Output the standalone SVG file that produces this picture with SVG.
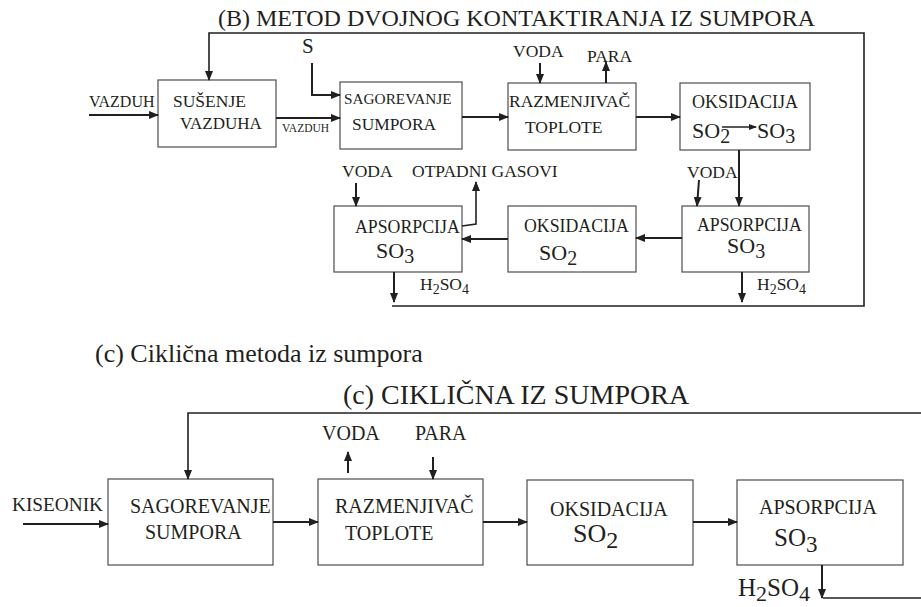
<svg xmlns="http://www.w3.org/2000/svg" width="921" height="607" viewBox="0 0 921 607" font-family="'Liberation Serif', 'DejaVu Serif', serif">
<style>
text{font-family:'Liberation Serif','DejaVu Serif',serif;fill:#231f20}
.box{fill:#fff;stroke:#4d4d4d;stroke-width:1.2}
.c{fill:none;stroke:#231f20;stroke-width:2}
.th{stroke-width:1.6}
.tn{stroke-width:1.3}
.t{font-size:17.5px}
.b{font-size:20px}
</style>
<defs>
<marker id="ah" markerWidth="10" markerHeight="8" refX="9" refY="4" orient="auto" markerUnits="userSpaceOnUse"><path d="M0,0 L10,4 L0,8 z" fill="#231f20"/></marker>
<marker id="ahs" markerWidth="8" markerHeight="6" refX="7" refY="3" orient="auto" markerUnits="userSpaceOnUse"><path d="M0,0 L8,3 L0,6 z" fill="#231f20"/></marker>
</defs>
<rect width="921" height="607" fill="#fff"/>

<text x="218" y="26" style="font-size:24px">(B) METOD DVOJNOG KONTAKTIRANJA IZ SUMPORA</text>
<text x="95" y="362" style="font-size:26px">(c) Ciklična metoda iz sumpora</text>
<text x="343" y="404" style="font-size:28px">(c) CIKLIČNA IZ SUMPORA</text>

<g id="susenje">
<rect class="box" x="158" y="80" width="118" height="67"/>
<text x="173" y="107" style="font-size:17.5px">SUŠENJE</text>
<text x="180" y="129" style="font-size:17px">VAZDUHA</text>
</g>
<g id="sagorevanje1">
<rect class="box" x="340" y="82" width="122" height="67"/>
<text x="344" y="104" style="font-size:15.3px">SAGOREVANJE</text>
<text x="352" y="130" style="font-size:17.4px">SUMPORA</text>
</g>
<g id="razmenjivac1">
<rect class="box" x="508" y="83" width="128" height="67"/>
<text x="509" y="107" class="t">RAZMENJIVAČ</text>
<text x="525" y="133" class="t">TOPLOTE</text>
</g>
<g id="oksidacija1">
<rect class="box" x="680" y="83" width="130" height="67"/>
<text x="692" y="108" style="font-size:18px">OKSIDACIJA</text>
<text x="692" y="138" style="font-size:22px">SO<tspan dy="5" font-size="20">2</tspan></text>
<text x="757" y="138" style="font-size:22px">SO<tspan dy="5" font-size="20">3</tspan></text>
</g>
<g id="apsorpcija1">
<rect class="box" x="682" y="206" width="127" height="66"/>
<text x="697" y="231" style="font-size:17.8px">APSORPCIJA</text>
<text x="727" y="253" style="font-size:22px">SO<tspan dy="5" font-size="20">3</tspan></text>
</g>
<g id="oksidacija2">
<rect class="box" x="508" y="206" width="128" height="66"/>
<text x="524" y="232" style="font-size:17.8px">OKSIDACIJA</text>
<text x="539" y="260" style="font-size:22px">SO<tspan dy="5" font-size="20">2</tspan></text>
</g>
<g id="apsorpcija2">
<rect class="box" x="334" y="206" width="128" height="66"/>
<text x="355" y="233" style="font-size:17.8px">APSORPCIJA</text>
<text x="376" y="258" style="font-size:22px">SO<tspan dy="5" font-size="20">3</tspan></text>
</g>

<g id="sagorevanje2">
<rect class="box" x="108" y="479" width="165" height="86"/>
<text x="130" y="513" class="b">SAGOREVANJE</text>
<text x="145" y="539" class="b">SUMPORA</text>
</g>
<g id="razmenjivac2">
<rect class="box" x="318" y="479" width="165" height="86"/>
<text x="335" y="513" class="b">RAZMENJIVAČ</text>
<text x="345" y="540" class="b">TOPLOTE</text>
</g>
<g id="oksidacija3">
<rect class="box" x="527" y="480" width="166" height="85"/>
<text x="550" y="516" class="b">OKSIDACIJA</text>
<text x="573" y="542" style="font-size:26px">SO<tspan dy="6" font-size="24">2</tspan></text>
</g>
<g id="apsorpcija3">
<rect class="box" x="737" y="480" width="166" height="85"/>
<text x="759" y="514" class="b">APSORPCIJA</text>
<text x="774" y="546" style="font-size:25px">SO<tspan dy="6" font-size="23">3</tspan></text>
</g>

<g id="connectors">
<path class="c th" d="M392,306 H864 V33 H209 V80" marker-end="url(#ah)"/>
<path class="c" d="M89,115 H158" marker-end="url(#ah)"/>
<path class="c" d="M276,118 H340" marker-end="url(#ah)"/>
<path class="c" d="M312,63 V95 H340" marker-end="url(#ah)"/>
<path class="c" d="M462,117 H508" marker-end="url(#ah)"/>
<path class="c" d="M540,63 V83" marker-end="url(#ah)"/>
<path class="c" d="M606,83 V62" marker-end="url(#ah)"/>
<path class="c" d="M636,117 H680" marker-end="url(#ah)"/>
<path class="c tn" d="M722,127 H756" marker-end="url(#ahs)"/>
<path class="c" d="M739,150 V206" marker-end="url(#ah)"/>
<path class="c" d="M699,180 L697,206" marker-end="url(#ah)"/>
<path class="c" d="M682,238 H636" marker-end="url(#ah)"/>
<path class="c" d="M508,239 H462" marker-end="url(#ah)"/>
<path class="c" d="M356,183 V206" marker-end="url(#ah)"/>
<path class="c th" d="M462,226 L476,224 V182" marker-end="url(#ah)"/>
<path class="c" d="M394,272 V302" marker-end="url(#ah)"/>
<path class="c" d="M742,272 V302" marker-end="url(#ah)"/>

<path class="c th" d="M921,413 H188 V479" marker-end="url(#ah)"/>
<path class="c" d="M23,524 H108" marker-end="url(#ah)"/>
<path class="c" d="M273,522 H318" marker-end="url(#ah)"/>
<path class="c" d="M348,473 V452" marker-end="url(#ah)"/>
<path class="c" d="M433,457 V479" marker-end="url(#ah)"/>
<path class="c" d="M483,522 H527" marker-end="url(#ah)"/>
<path class="c" d="M693,522 H737" marker-end="url(#ah)"/>
<path class="c" d="M822,565 V598" marker-end="url(#ah)"/>
<path class="c th" d="M823,598 H921"/>
</g>

<g id="labels">
<text x="89" y="107" style="font-size:16px">VAZDUH</text>
<text x="282" y="132" style="font-size:11.5px">VAZDUH</text>
<text x="302" y="53" style="font-size:21px">S</text>
<text x="513" y="57" class="t">VODA</text>
<text x="587" y="62" class="t">PARA</text>
<text x="687" y="178" class="t">VODA</text>
<text x="342" y="177" class="t">VODA</text>
<text x="412" y="177" class="t">OTPADNI GASOVI</text>
<text x="420" y="290" class="t">H<tspan dy="4" font-size="14">2</tspan><tspan dy="-4">SO</tspan><tspan dy="4" font-size="14">4</tspan></text>
<text x="757" y="290" class="t">H<tspan dy="4" font-size="14">2</tspan><tspan dy="-4">SO</tspan><tspan dy="4" font-size="14">4</tspan></text>
<text x="12" y="511" style="font-size:19.3px">KISEONIK</text>
<text x="322" y="440" class="b">VODA</text>
<text x="415" y="440" class="b">PARA</text>
<text x="738" y="596" style="font-size:25px">H<tspan dy="5" font-size="22">2</tspan><tspan dy="-5">SO</tspan><tspan dy="5" font-size="22">4</tspan></text>
</g>
</svg>
